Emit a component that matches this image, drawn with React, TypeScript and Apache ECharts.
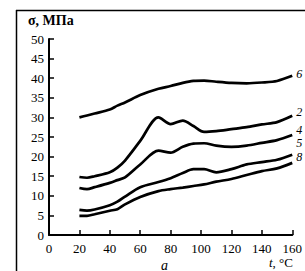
import React, { useEffect, useRef } from "react";
import * as echarts from "echarts";

const temps = [20, 25, 30, 40, 45, 50, 60, 72, 80, 88, 95, 102, 110, 120, 130, 140, 150, 160];
const curve6 = [30, 30.5, 31, 32, 33, 33.8, 35.7, 37.3, 38, 38.8, 39.3, 39.4, 39.1, 38.8, 38.7, 38.9, 39.3, 40.6];
const curve2 = [14.8, 14.6, 15, 16, 17.2, 19, 24, 30, 28.3, 29.2, 27.8, 26.3, 26.5, 27, 27.5, 28.2, 28.8, 30.4];
const curve4 = [12, 11.7, 12.2, 13.3, 14, 14.7, 18, 21.5, 21, 22.5, 23.3, 23.4, 22.8, 22.5, 22.8, 23.5, 24.2, 25.5];
const curve5 = [6.4, 6.2, 6.5, 7.6, 8.5, 9.8, 12.2, 13.5, 14.5, 15.8, 16.8, 16.8, 16, 16.8, 18, 18.6, 19.2, 20.5];
const curve8 = [4.9, 4.9, 5.3, 6.2, 6.6, 7.8, 9.7, 11.2, 11.7, 12.1, 12.5, 12.9, 13.6, 14.3, 15.3, 16.3, 17, 18.4];
const curveNames = ["6", "2", "4", "5", "8"];
const curves = [curve6, curve2, curve4, curve5, curve8];
const labelOffsets = [[0, -2], [0, -4], [0, -5], [0, -12], [0, -6]];

const FONT = "'Liberation Serif', 'DejaVu Serif', serif";

export default function App() {
  const ref = useRef<HTMLDivElement>(null);
  useEffect(() => {
    if (!ref.current) return;
    const chart = echarts.init(ref.current, null, { renderer: "svg" });
    const series = curves.map((c, i) => ({
      type: "line",
      name: curveNames[i],
      data: temps.map((t, j) => [t, c[j]]),
      showSymbol: false,
      smooth: 0.3,
      lineStyle: { color: "#000", width: 2.7 },
      endLabel: {
        show: true,
        formatter: curveNames[i],
        color: "#000",
        fontFamily: FONT,
        fontStyle: "italic",
        fontSize: 12,
        lineHeight: 10,
        distance: 4,
        offset: labelOffsets[i],
      },
    }));
    chart.setOption({
      animation: false,
      backgroundColor: "#fff",
      grid: { left: 49, top: 39, width: 247, height: 196 },
      xAxis: {
        type: "value",
        min: 0,
        max: 160,
        interval: 20,
        splitLine: { show: false },
        axisLine: { lineStyle: { color: "#000", width: 2 } },
        axisTick: { inside: true, length: 5, lineStyle: { color: "#000", width: 1.5 } },
        axisLabel: { color: "#000", fontFamily: FONT, fontSize: 13, margin: 7 },
      },
      yAxis: {
        type: "value",
        min: 0,
        max: 50,
        interval: 5,
        splitLine: { show: false },
        axisLine: { show: true, lineStyle: { color: "#000", width: 2 } },
        axisTick: { show: true, inside: true, length: 5, lineStyle: { color: "#000", width: 1.5 } },
        axisLabel: { color: "#000", fontFamily: FONT, fontSize: 13, margin: 5 },
      },
      series,
      graphic: [
        { type: "line", shape: { x1: 16.5, y1: 10, x2: 16.5, y2: 271 }, style: { stroke: "#000", lineWidth: 1.5 } },
        { type: "line", shape: { x1: 16, y1: 10.5, x2: 305, y2: 10.5 }, style: { stroke: "#000", lineWidth: 1.5 } },
        {
          type: "text",
          left: 28,
          top: 13,
          style: { text: "σ, МПа", fill: "#000", font: `bold 14px ${FONT}` },
        },
        {
          type: "text",
          left: 269,
          top: 256,
          style: {
            text: "{i|t}, °C",
            fill: "#000",
            font: `13px ${FONT}`,
            rich: { i: { fontStyle: "italic", fontFamily: FONT, fontSize: 13 } },
          },
        },
        {
          type: "text",
          left: 161,
          top: 258,
          style: { text: "a", fill: "#000", font: `italic 14px ${FONT}` },
        },
      ],
    });
    return () => chart.dispose();
  }, []);
  return <div ref={ref} style={{ position: "fixed", left: 0, top: 0, width: 305, height: 271 }} />;
}
